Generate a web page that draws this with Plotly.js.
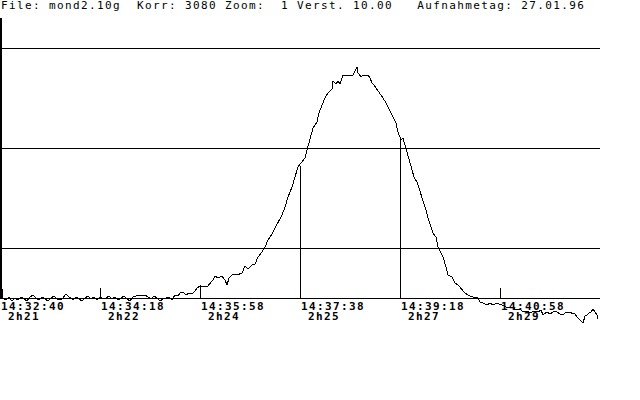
<!DOCTYPE html>
<html>
<head>
<meta charset="utf-8">
<script src="https://cdn.plot.ly/plotly-3.0.1.min.js"></script>
<style>
  html, body { margin: 0; padding: 0; background: #fff; }
  #chart { width: 640px; height: 400px; }
  .main-svg path { shape-rendering: crispEdges; }
  .annotation-text { letter-spacing: 1.38px; }
</style>
</head>
<body>
<div id="chart"></div>
<script>
// ---- header text ----
const headerText = 'File: mond2.10g  Korr: 3080 Zoom:  1 Verst. 10.00   Aufnahmetag: 27.01.96';

// ---- tick labels (time of day / hour angle) ----
const tickPositions = [0, 100, 200, 300, 400, 500];
const timeLabels = ['14:32:40', '14:34:18', '14:35:58', '14:37:38', '14:39:18', '14:40:58'];
const hourLabels = ['2h21', '2h22', '2h24', '2h25', '2h27', '2h29'];
const markerLevels = [9, 10, 13, 132, 160, 10];

// ---- reference levels ----
const gridLevels = [50, 150, 250];
const axisTop = 280;

// ---- scan: sample (seconds from start) and intensity ----
const sampleX = [
  0, 2, 3, 6, 9, 12, 15, 18, 21, 24, 27, 30, 33, 36, 39, 42, 45, 48, 51, 54,
  57, 60, 63, 66, 68, 70, 73, 76, 79, 82, 85, 88, 91, 94, 97, 100, 103, 106, 109, 112,
  115, 118, 121, 124, 127, 130, 133, 136, 139, 142, 145, 148, 151, 154, 157, 160, 163, 166, 169, 172,
  175, 178, 180, 183, 186, 189, 192, 195, 197, 200, 203, 206, 207, 210, 213, 215, 218, 222, 225, 227,
  229, 233, 237, 242, 245, 248, 252, 255, 258, 262, 265, 268, 272, 275, 278, 282, 285, 288, 292, 295,
  298, 301, 305, 307, 310, 313, 317, 319, 322, 325, 328, 332, 333, 336, 338, 340, 343, 348, 353, 355,
  357, 358, 361, 363, 368, 370, 372, 374, 377, 380, 383, 386, 388, 391, 393, 396, 398, 400, 401, 403,
  405, 407, 409, 412, 414, 417, 419, 422, 424, 426, 428, 431, 433, 436, 438, 441, 443, 446, 448, 452,
  455, 458, 462, 465, 468, 472, 475, 477, 480, 483, 487, 490, 493, 497, 500, 504, 508, 512, 516, 520,
  523, 527, 530, 534, 538, 541, 543, 547, 550, 552, 555, 557, 560, 563, 566, 568, 572, 575, 577, 580,
  583, 585, 587, 589, 591, 593, 595, 597, 598
];
const intensity = [
  9, 9, 0, -2, 1, -3, 0, -2, 1, -1, -3, 1, 3, 0, -2, 1, -1, -3, 0, 2,
  -1, -2, 0, 4, 2, 0, -2, 1, -1, -3, 0, 2, -1, 1, -2, 1, -1, 0, 2, -1,
  1, -2, 0, 2, -1, -3, 1, 2, 3, 2, 3, 1, -1, 2, 0, -3, -1, 0, 1, -2,
  3, 2, 5, 6, 3, 5, 4, 7, 10, 12, 12, 12, 11, 14, 18, 22, 20, 22, 18, 13,
  20, 24, 23, 25, 32, 29, 33, 34, 41, 46, 51, 58, 64, 70, 76, 83, 91, 101, 111, 121,
  131, 135, 140, 148, 160, 170, 176, 185, 193, 200, 205, 209, 217, 214, 217, 214, 223, 223, 223, 227,
  231, 225, 221, 223, 223, 220, 215, 213, 209, 205, 200, 195, 191, 186, 181, 175, 166, 160, 158, 160,
  153, 146, 138, 130, 121, 116, 110, 101, 95, 88, 80, 71, 65, 61, 51, 45, 41, 31, 23, 21,
  15, 13, 8, 5, 3, 1, 0, 1, -4, -5, -7, -5, -7, -5, -6, -8, -10, -9, -12, -11,
  -14, -13, -15, -13, -14, -12, -17, -14, -16, -15, -13, -14, -16, -17, -14, -14, -15, -16, -19, -22,
  -25, -18, -17, -15, -14, -11, -14, -17, -21
];

// marker lines from the axis up to each tick's level
const markX = [], markY = [];
tickPositions.forEach((p, i) => { markX.push(p, p, null); markY.push(0, markerLevels[i], null); });

const monoFont = 'DejaVu Sans Mono, Liberation Mono, monospace';

const traces = [
  { x: sampleX, y: intensity, type: 'scatter', mode: 'lines',
    line: { color: '#000', width: 1 }, hoverinfo: 'skip', showlegend: false },
  { x: markX, y: markY, type: 'scatter', mode: 'lines',
    line: { color: '#000', width: 1 }, hoverinfo: 'skip', showlegend: false }
];

const annotations = [
  { text: headerText, xref: 'paper', yref: 'paper', x: 0, y: 1, xanchor: 'left', yanchor: 'top',
    showarrow: false, borderpad: 0, font: { family: monoFont, size: 11, color: '#000' }, yshift: 2 }
];
tickPositions.forEach((p, i) => {
  annotations.push({ text: timeLabels[i], xref: 'x', yref: 'y', x: p, y: -1, xanchor: 'left', yanchor: 'top',
    showarrow: false, borderpad: 0, font: { family: monoFont, size: 11, color: '#000', weight: 'bold' } });
  annotations.push({ text: hourLabels[i], xref: 'x', yref: 'y', x: p + 7, y: -11, xanchor: 'left', yanchor: 'top',
    showarrow: false, borderpad: 0, font: { family: monoFont, size: 11, color: '#000', weight: 'bold' } });
});

const layout = {
  width: 640, height: 400,
  margin: { l: 0, r: 40, t: 0, b: 0, pad: 0 },
  paper_bgcolor: '#fff', plot_bgcolor: '#fff',
  showlegend: false,
  xaxis: { range: [0, 600], showgrid: false, zeroline: false, showline: false,
           showticklabels: false, ticks: '', fixedrange: true },
  yaxis: { range: [-102, 298], tickvals: gridLevels, showgrid: true, gridcolor: '#000', gridwidth: 1,
           zeroline: true, zerolinecolor: '#000', zerolinewidth: 1, showline: false,
           showticklabels: false, ticks: '', fixedrange: true },
  shapes: [
    { type: 'line', xref: 'x', yref: 'y', x0: 1, x1: 1, y0: 0, y1: axisTop,
      line: { color: '#000', width: 2 }, layer: 'below' }
  ],
  annotations: annotations
};

Plotly.newPlot('chart', traces, layout, { staticPlot: true, displayModeBar: false });
</script>
</body>
</html>
